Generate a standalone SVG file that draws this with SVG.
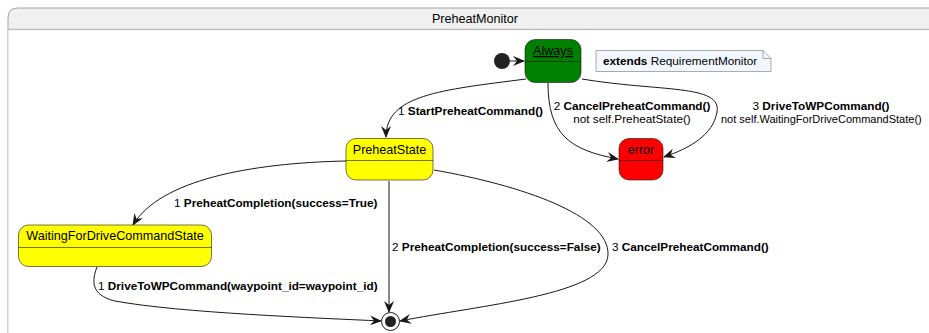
<svg xmlns="http://www.w3.org/2000/svg" width="929" height="333" viewBox="0 0 929 333">
<style>
.st{stroke:#181818;stroke-width:0.6}
.nm{font-family:"Liberation Sans",Arial,sans-serif;font-size:12.6px;fill:#000;text-anchor:middle}
.lb{font-family:"Liberation Sans",Arial,sans-serif;font-size:11.75px;fill:#000}
.b{font-weight:bold}
.e{fill:none;stroke:#181818;stroke-width:1}
</style>
<defs>
<marker id="ah" viewBox="0 0 12 10" refX="11" refY="5" markerWidth="12" markerHeight="10" markerUnits="userSpaceOnUse" orient="auto">
<path d="M0,0 L12,5 L0,10 L4,5 Z" fill="#181818"/>
</marker>
</defs>
<g id="container">
<path d="M8,329 V18 Q8,8 18,8 H940 V29 H8 Z" fill="#f1f1f1" stroke="none"/>
<path d="M8,345 V18 Q8,8 18,8 H940" fill="none" stroke="#a0a0a0" stroke-width="1"/>
<line x1="8" y1="29.5" x2="940" y2="29.5" stroke="#bbbbbb" stroke-width="1.5"/>
<rect x="8.5" y="30.3" width="930" height="310" fill="#ffffff"/>
<text x="475" y="23" class="nm">PreheatMonitor</text>
</g>
<g id="edges">
<line x1="510" y1="61" x2="524" y2="61" class="e" marker-end="url(#ah)"/>
<path d="M526,79 C440,90 386,95 386,137" class="e" marker-end="url(#ah)"/>
<path d="M548,83 C548,135 570,150 618,159" class="e" marker-end="url(#ah)"/>
<path d="M582,79 C660,92 722,84 717,112 C713,135 690,148 664,157" class="e" marker-end="url(#ah)"/>
<path d="M346,161 C250,163 160,180 133,225" class="e" marker-end="url(#ah)"/>
<path d="M389,181 L389,312" class="e" marker-end="url(#ah)"/>
<path d="M434,170 C520,185 610,215 608,255 C606,295 480,305 400,321" class="e" marker-end="url(#ah)"/>
<path d="M97,267 C92,280 90,295 115,301 C180,313 320,318 381,321" class="e" marker-end="url(#ah)"/>
<text x="398" y="115" class="lb">1 <tspan class="b">StartPreheatCommand()</tspan></text>
<text x="632" y="110" class="lb" text-anchor="middle">2 <tspan class="b">CancelPreheatCommand()</tspan></text>
<text x="632" y="123" class="lb" text-anchor="middle">not self.PreheatState()</text>
<text x="821" y="110" class="lb" text-anchor="middle">3 <tspan class="b">DriveToWPCommand()</tspan></text>
<text x="721" y="123" class="lb" style="font-size:11px">not self.WaitingForDriveCommandState()</text>
<text x="174" y="207" class="lb">1 <tspan class="b">PreheatCompletion(success=True)</tspan></text>
<text x="392" y="251" class="lb">2 <tspan class="b">PreheatCompletion(success=False)</tspan></text>
<text x="612" y="251" class="lb">3 <tspan class="b">CancelPreheatCommand()</tspan></text>
<text x="98" y="290" class="lb">1 <tspan class="b">DriveToWPCommand(waypoint_id=waypoint_id)</tspan></text>
</g>
<g id="initial">
<circle cx="502" cy="61" r="8" fill="#222222"/>
</g>
<g id="Always">
<rect x="525" y="39.5" width="56" height="43" rx="10" fill="#008000" class="st"/>
<line x1="525" y1="61.5" x2="581" y2="61.5" class="st"/>
<text x="553" y="55" class="nm" text-decoration="underline">Always</text>
</g>
<g id="note">
<path d="M596,50.5 H763 L771,58.5 V71.5 H596 Z" fill="#f2f7ff" stroke="#888888" stroke-width="0.7"/>
<path d="M763,50.5 V58.5 H771" fill="none" stroke="#888888" stroke-width="0.7"/>
<text x="603" y="65" class="lb"><tspan class="b">extends</tspan> RequirementMonitor</text>
</g>
<g id="PreheatState">
<rect x="346" y="138.5" width="87" height="41.5" rx="10" fill="#ffff00" class="st"/>
<line x1="346" y1="160.5" x2="433" y2="160.5" class="st"/>
<text x="389.5" y="154" class="nm">PreheatState</text>
</g>
<g id="error">
<rect x="619" y="138.5" width="44" height="41.5" rx="10" fill="#ff0000" class="st"/>
<line x1="619" y1="160.5" x2="663" y2="160.5" class="st"/>
<text x="641" y="154" class="nm">error</text>
</g>
<g id="WaitingForDriveCommandState">
<rect x="18.5" y="225" width="193" height="41.5" rx="10" fill="#ffff00" class="st"/>
<line x1="18.5" y1="247.5" x2="211.5" y2="247.5" class="st"/>
<text x="115" y="240" class="nm">WaitingForDriveCommandState</text>
</g>
<g id="final">
<circle cx="390.5" cy="321.5" r="9" fill="none" stroke="#222222" stroke-width="1"/>
<circle cx="390.5" cy="321.5" r="5.5" fill="#222222"/>
</g>
</svg>
